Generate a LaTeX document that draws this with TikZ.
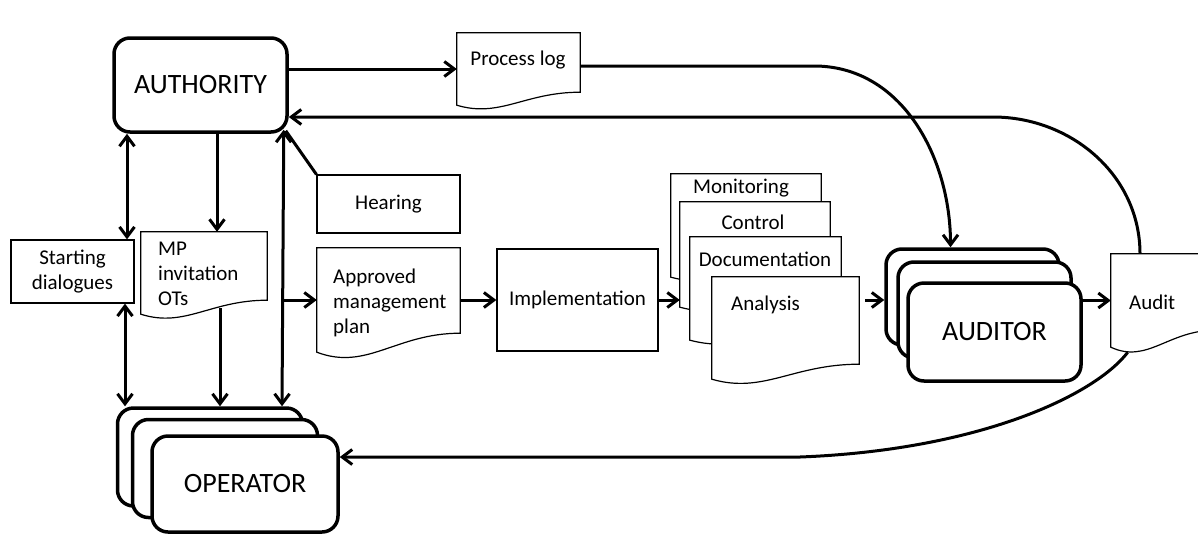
\documentclass[tikz,border=0pt]{standalone}
\usepackage{fontspec}
\setmainfont{Carlito}
\usetikzlibrary{arrows.meta,calc}

\newcommand\docshape[2]{%
  \draw[docline] (#1.north west) -- (#1.north east) -- ($(#1.south east)+(0,-#2)$)
    .. controls ($(#1.south east)!.45!(#1.south west)+(0,-#2)$)
    and ($(#1.south east)!.65!(#1.south west)+(0,#2)$) .. (#1.south west) -- cycle;}

\begin{document}
\begin{tikzpicture}[x=1pt,y=-1pt,>={Straight Barb[length=10pt,width=15pt]},
  conn/.style={line width=3pt},
  bigbox/.style={draw,line width=3.5pt,rounded corners=16pt,fill=white,
    font=\fontsize{28}{32}\selectfont},
  thinbox/.style={draw,line width=1.2pt,fill=white,align=center,inner sep=0pt},
  docbox/.style={inner sep=0pt},
  docline/.style={line width=1.2pt,fill=white},
  font=\fontsize{21}{25}\selectfont]

\useasboundingbox (0,0) rectangle (1198,533);

\node[bigbox,minimum width=173pt,minimum height=94pt] (auth) at (200.5,85) {AUTHORITY};

\node[docbox,minimum width=123pt,minimum height=72pt] (plog) at (518.5,69) {};
\docshape{plog}{13}
\node (plogtext) at (518,60) {Process log};

\node[thinbox,minimum width=123pt,minimum height=63pt] (sd) at (72.5,271.5) {Starting\\dialogues};

\node[docbox,minimum width=126pt,minimum height=82pt] (mp) at (204,273) {};
\docshape{mp}{14}
\node[align=left,anchor=west,inner sep=0pt] (mptext) at (158,274) {MP\\invitation\\OTs};

\node[thinbox,minimum width=143pt,minimum height=58pt] (hear) at (388.5,204) {Hearing};

\node[docbox,minimum width=143pt,minimum height=104pt] (plan) at (388.5,300) {};
\docshape{plan}{19}
\node[align=left,anchor=west,inner sep=0pt] (plantext) at (333,303) {Approved\\management\\plan};

\node[thinbox,minimum width=161pt,minimum height=102pt] (impl) at (577.5,300) {Implementation};

\node[docbox,minimum width=150pt,minimum height=103pt] (mon) at (746,225.5) {};
\docshape{mon}{14}
\node (montext) at (741,188) {Monitoring};
\node[docbox,minimum width=150pt,minimum height=105pt] (ctrl) at (755,254.5) {};
\docshape{ctrl}{14}
\node (ctrltext) at (753,222) {Control};
\node[docbox,minimum width=151pt,minimum height=103pt] (doc) at (765.5,288.5) {};
\docshape{doc}{14}
\node (doctext) at (765,259) {Documentation};
\node[docbox,minimum width=147pt,minimum height=102pt] (anal) at (785.5,328) {};
\docshape{anal}{15}
\node[anchor=west,inner sep=0pt] (analtext) at (731,305) {Analysis};

\foreach \n/\x/\y in {audback/972.5/297,audmid/984.5/310}
{
    \node[bigbox,minimum width=173pt,minimum height=96pt] (\n) at (\x,\y) {};
}
\node[bigbox,minimum width=173pt,minimum height=98pt] (audfront) at (994.5,332) {AUDITOR};

\node[docbox,minimum width=104pt,minimum height=93pt] (audit) at (1163,300.5) {};
\docshape{audit}{17}
\node[anchor=west,inner sep=0pt] (audittext) at (1129,302) {Audit};

\foreach \n/\x/\y in {opback/210/457,opmid/225/468.5}
{
    \node[bigbox,minimum width=185pt,minimum height=98pt] (\n) at (\x,\y) {};
}
\node[bigbox,minimum width=186pt,minimum height=96pt] (opfront) at (245,484) {OPERATOR};

\draw[conn,->] (auth.east |- plog.west) -- (plog.west);
\draw[conn,->] (plog.east |- 0,66) -- (814,66) to[out=0,in=90] ([xshift=-22pt]audback.north);

\coordinate (ret) at (993,117);
\draw[conn,->] ([xshift=-23pt]audit.north) to[out=90,in=0] (ret) -- (auth.east |- ret);
\draw[conn,->] ($(audit.south west)+(17,5)$) .. controls (1095,395) and (980,450) .. (800,457)
    -- (opfront.east |- 0,457);

\draw[conn,<->] (auth.south -| 127,0) -- (sd.north -| 127,0);
\draw[conn,->] (auth.south -| 217,0) -- (mp.north -| 217,0);
\draw[conn,<->] ($(auth.south east)+(-5,-4)$) -- (opback.north -| 282,0);
\draw[conn,->] (plan.west -| 282,0) -- (plan.west);
\draw[conn] ($(auth.south east)+(-3,-3)$) -- (hear.north west);
\draw[conn,<->] (sd.south -| 125,0) -- (opback.north -| 125,0);
\draw[conn,->] ($(mp.south)+(16,-6)$) -- (opback.north -| 220,0);

\draw[conn,->] (plan.east) -- (impl.west);
\draw[conn,->] (impl.east) -- (impl.east -| ctrl.west);
\draw[conn,->] ($(anal.east |- impl.east)+(6,0)$) -- (audback.west |- impl.east);
\draw[conn,->] (audfront.east |- audit.west) -- (audit.west);

\end{tikzpicture}
\end{document}
